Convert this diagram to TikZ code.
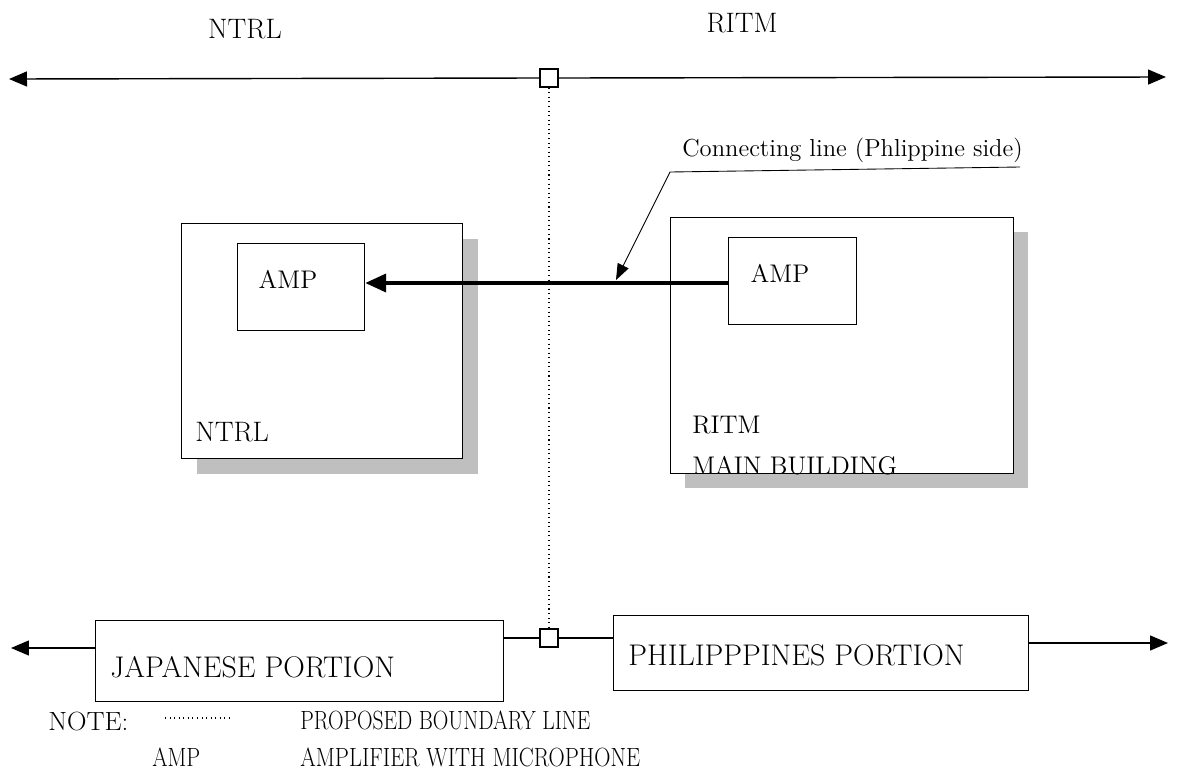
\documentclass[tikz,border=0pt]{standalone}
\usepackage{graphicx}
\usetikzlibrary{arrows.meta}
\begin{document}
\begin{tikzpicture}[x=0.02cm,y=-0.02cm,
  lbl/.style={font=\fontsize{12}{14}\selectfont, inner sep=0pt},
  lblw/.style={lbl, anchor=west},
  big/.style={font=\fontsize{16}{18}\selectfont},
  mid/.style={font=\fontsize{14.5}{17}\selectfont},
  leg/.style={lblw, font=\fontsize{15}{17}\selectfont},
  box/.style={draw, line width=0.7pt, fill=white, inner sep=0pt},
  shadowbox/.style={fill=black!25, draw=none},
  sq/.style={draw, line width=0.8pt, fill=white, minimum width=0.36cm, minimum height=0.36cm, inner sep=0pt},
  axis/.style={line width=0.8pt, -{Triangle[length=0.36cm,width=0.3cm]}},
  thick arrow/.style={line width=2.2pt, -{Triangle[length=0.42cm,width=0.36cm]}},
  lead/.style={line width=0.5pt, -{Triangle[length=0.32cm,width=0.24cm]}},
  boundary/.style={line width=0.6pt, dotted}
]
\useasboundingbox (0,0) rectangle (1187,778);

% top line
\node[sq] (sqt) at (549,78) {};
\coordinate (tl) at (9,79);
\coordinate (tr) at (1166,77);
\draw[axis] (sqt.west) -- (tl);
\draw[axis] (sqt.east) -- (tr);
\node[lbl, big] (ntrltop) at (245,29) {NTRL};
\node[lbl, big] (ritmtop) at (742,23) {RITM};

% buildings
\fill[shadowbox] (197,239) rectangle (478,474);
\node[box, minimum width=5.62cm, minimum height=4.7cm, anchor=north west] (ntrl) at (181,223) {};
\fill[shadowbox] (685,232) rectangle (1028,488);
\node[box, minimum width=6.86cm, minimum height=5.12cm, anchor=north west] (ritm) at (670,217) {};

\node[box, minimum width=2.54cm, minimum height=1.74cm, anchor=north west] (ampl) at (237,243) {};
\node[box, minimum width=2.56cm, minimum height=1.74cm, anchor=north west] (ampr) at (728,237) {};
\node[lbl, mid] (amplt) at (288,279) {AMP};
\node[lbl, mid] (amprt) at (780,273) {AMP};

\node[lblw, big] (ntrlin) at (195,432) {NTRL};
\node[lblw, mid] (ritmin) at (692,425) {RITM};
\node[lblw, mid] (mainb) at (692,466) {MAIN BUILDING};

\draw[thick arrow] (ampr.west |- 0,283) -- (ampl.east |- 0,283);

% connecting line label
\node[lblw, font=\fontsize{14}{16}\selectfont] (conn) at (682,150) {Connecting line (Phlippine side)};
\coordinate (ul1) at (1020,167);
\coordinate (ul2) at (670,172);
\coordinate (tip) at (616,280);
\draw[lead] (ul1) -- (ul2) -- (tip);

% boundary
\node[sq] (sqb) at (549,638) {};
\draw[boundary] (sqt.south) -- (sqb.north);

% bottom portions
\node[box, minimum width=8.16cm, minimum height=1.62cm, anchor=north west] (jp) at (95,620) {};
\node[lblw, font=\fontsize{17}{19}\selectfont] at (110,667) {JAPANESE PORTION};
\node[box, minimum width=8.3cm, minimum height=1.5cm, anchor=north west] (ph) at (613,615) {};
\node[lblw, font=\fontsize{17}{19}\selectfont] at (628,655) {PHILIPPPINES PORTION};
\coordinate (bl) at (11,648);
\coordinate (br) at (1168,643);
\draw[line width=0.8pt] (jp.east |- sqb) -- (sqb.west);
\draw[line width=0.8pt] (sqb.east) -- (ph.west |- sqb);
\draw[axis] (jp.west |- bl) -- (bl);
\draw[axis] (ph.east |- br) -- (br);

% legend
\node[leg] (note) at (48,721) {\resizebox{1.6cm}{\height}{NOTE:}};
\coordinate (d1) at (165,718);
\coordinate (d2) at (232,718);
\draw[boundary] (d1) -- (d2);
\node[leg] (l1) at (300,720) {\resizebox{5.8cm}{\height}{PROPOSED BOUNDARY LINE}};
\node[leg] (l2a) at (152,757) {\resizebox{0.96cm}{\height}{AMP}};
\node[leg] (l2) at (300,757) {\resizebox{6.8cm}{\height}{AMPLIFIER WITH MICROPHONE}};
\end{tikzpicture}
\end{document}
